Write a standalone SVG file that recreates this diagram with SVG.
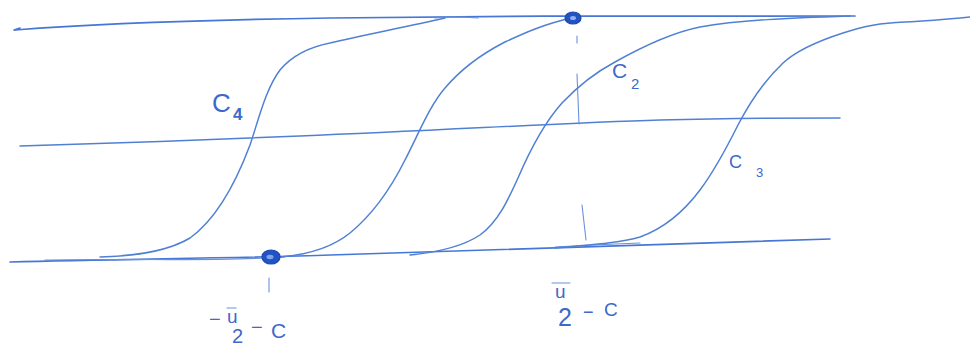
<svg xmlns="http://www.w3.org/2000/svg" width="970" height="349" viewBox="0 0 970 349">
<style>
.ln{fill:none;stroke:#4677d6;stroke-width:1.7;stroke-linecap:round;stroke-linejoin:round}
.cv{fill:none;stroke:#5080d4;stroke-width:1.5;stroke-linecap:round}
.th{fill:none;stroke:#6a90dc;stroke-width:1.1;stroke-linecap:round}
.dot{fill:#2153c4;stroke:#1d47b0;stroke-width:1.2}
.lb{font-family:"Liberation Sans",Arial,sans-serif;fill:#3d68cc}
</style>
<rect width="970" height="349" fill="#ffffff"/>
<g id="connectors">
  <g id="top-line">
    <path class="ln" d="M15,30 C80,25 200,20 330,18 C500,16 700,15 855,16"/>
    <path class="ln" d="M14,30 L20,28" stroke-width="3"/>
    <path class="th" d="M435,18 C450,16 465,17 478,18"/>
  </g>
  <g id="middle-line">
    <path class="cv" d="M20,146 C120,143 200,140 300,136 C450,130 560,123 660,120 C740,118 800,118 840,118" stroke-width="1.3"/>
  </g>
  <g id="bottom-line">
    <path class="ln" d="M10,262 C120,259 250,258 330,255 C450,251 600,246 830,239"/>
    <path class="th" d="M45,260 C130,258 210,262 285,257"/>
    <path class="th" d="M555,247 C590,245 615,244 640,243"/>
  </g>
  <g id="dashed-line">
    <path class="th" d="M577,36 L577,43"/>
    <path class="th" d="M577,74 L579,124"/>
    <path class="th" d="M582,205 L586,240"/>
  </g>
</g>
<g id="curve-c4">
  <path class="cv" d="M100,257 C140,256 170,250 190,238 C215,220 235,185 250,145 C258,122 265,90 280,70 C295,52 315,46 330,43 C360,36 400,28 445,18"/>
</g>
<g id="curve-2">
  <path class="cv" d="M280,257 C305,255 330,249 350,233 C372,215 390,190 405,160 C418,135 430,105 445,88 C462,68 480,55 503,43 C520,35 540,25 575,17"/>
</g>
<g id="curve-c2">
  <path class="cv" d="M410,255 C440,252 465,245 480,235 C498,222 508,200 518,178 C530,150 545,122 562,103 C580,84 600,70 615,62 C640,48 670,33 700,27 C740,20 790,18 850,16"/>
</g>
<g id="curve-c3">
  <path class="cv" d="M555,248 C590,245 620,243 640,237 C665,228 685,210 700,190 C715,170 728,145 738,125 C750,102 765,80 783,63 C795,52 815,42 843,33 C865,26 880,23 905,22 C930,21 950,19 970,17"/>
</g>
<g id="point-top">
  <ellipse class="dot" cx="573" cy="18" rx="8" ry="6"/>
  <ellipse cx="573" cy="18" rx="3" ry="2" fill="#8fb0ee"/>
</g>
<g id="point-bottom">
  <ellipse class="dot" cx="271" cy="257" rx="9" ry="7"/>
  <ellipse cx="270" cy="257" rx="3.5" ry="2.2" fill="#7fa2e8"/>
  <path class="th" d="M269,278 L269,292" stroke-width="1.6"/>
</g>
<g id="label-c4">
  <text class="lb" x="212" y="112" font-size="26">C</text>
  <text class="lb" x="233" y="120" font-size="17" font-weight="bold">4</text>
</g>
<g id="label-c2">
  <text class="lb" x="612" y="78" font-size="21">C</text>
  <text class="lb" x="631" y="89" font-size="15">2</text>
</g>
<g id="label-c3">
  <text class="lb" x="729" y="168" font-size="18">C</text>
  <text class="lb" x="756" y="177" font-size="13">3</text>
</g>
<g id="label-left">
  <text class="lb" x="209" y="326" font-size="20">−</text>
  <text class="lb" x="227" y="323" font-size="19">u</text>
  <path class="th" d="M227,308 L236,308" stroke-width="1.6"/>
  <text class="lb" x="232" y="343" font-size="20">2</text>
  <text class="lb" x="251" y="334" font-size="20">−</text>
  <text class="lb" x="271" y="338" font-size="21">C</text>
</g>
<g id="label-right">
  <text class="lb" x="555" y="298" font-size="19">u</text>
  <path class="th" d="M552,283 L570,283" stroke-width="1.6"/>
  <text class="lb" x="558" y="326" font-size="25">2</text>
  <text class="lb" x="583" y="318" font-size="18">−</text>
  <text class="lb" x="604" y="316" font-size="19">C</text>
</g>
</svg>
